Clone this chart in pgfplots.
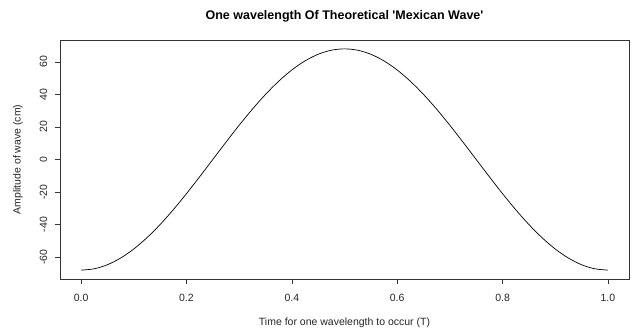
\documentclass[border=0pt]{standalone}
\usepackage{pgfplots}
\pgfplotsset{compat=1.18}
\usepackage{fontspec}
\setmainfont{Liberation Sans}
\begin{document}
\begin{tikzpicture}
\begin{axis}[
  at={(0,0)}, anchor=south west,
  scale only axis, width=569bp, height=239bp,
  xmin=-0.04, xmax=1.04, ymin=-73.44, ymax=73.44,
  xtick={0,0.2,0.4,0.6,0.8,1.0},
  xticklabels={0.0,0.2,0.4,0.6,0.8,1.0},
  ytick={-60,-40,-20,0,20,40,60},
  tick align=outside, major tick length=5.5bp,
  xtick pos=bottom, ytick pos=left,
  axis line style={line width=0.6bp, black!80},
  every tick/.style={black!80, line width=0.6bp},
  /pgf/number format/assume math mode=true,
  ticklabel style={font=\fontsize{10.5bp}{12bp}\selectfont, text=black!85},
  xticklabel style={anchor=center, yshift=-13.5bp},
  yticklabel style={rotate=90, anchor=center, yshift=11bp},
  xlabel={Time for one wavelength to occur (T)},
  ylabel={Amplitude of wave (cm)},
  label style={font=\fontsize{10.5bp}{12bp}\selectfont, text=black!85},
  xlabel style={at={(axis description cs:0.5,-0.184)}, anchor=center},
  ylabel style={at={(axis description cs:-0.0738,0.5)}, anchor=center},
  title={One wavelength Of Theoretical \textquotesingle Mexican Wave\textquotesingle},
  title style={font=\bfseries\fontsize{12.5bp}{14bp}\selectfont, at={(axis description cs:0.5,1.075)}, anchor=center},
]
\addplot[black, line width=0.7bp, smooth] coordinates {
(0.000,-68.000) (0.025,-67.163) (0.050,-64.672) (0.075,-60.589) (0.100,-55.013)
(0.125,-48.083) (0.150,-39.970) (0.175,-30.871) (0.200,-21.013) (0.225,-10.637)
(0.250,0.000) (0.275,10.637) (0.300,21.013) (0.325,30.871) (0.350,39.970)
(0.375,48.083) (0.400,55.013) (0.425,60.589) (0.450,64.672) (0.475,67.163)
(0.500,68.000) (0.525,67.163) (0.550,64.672) (0.575,60.589) (0.600,55.013)
(0.625,48.083) (0.650,39.970) (0.675,30.871) (0.700,21.013) (0.725,10.637)
(0.750,0.000) (0.775,-10.637) (0.800,-21.013) (0.825,-30.871) (0.850,-39.970)
(0.875,-48.083) (0.900,-55.013) (0.925,-60.589) (0.950,-64.672) (0.975,-67.163)
(1.000,-68.000)
};
\end{axis}
\path[use as bounding box] (-60bp,-50bp) rectangle (573bp,279bp);
\end{tikzpicture}
\end{document}
